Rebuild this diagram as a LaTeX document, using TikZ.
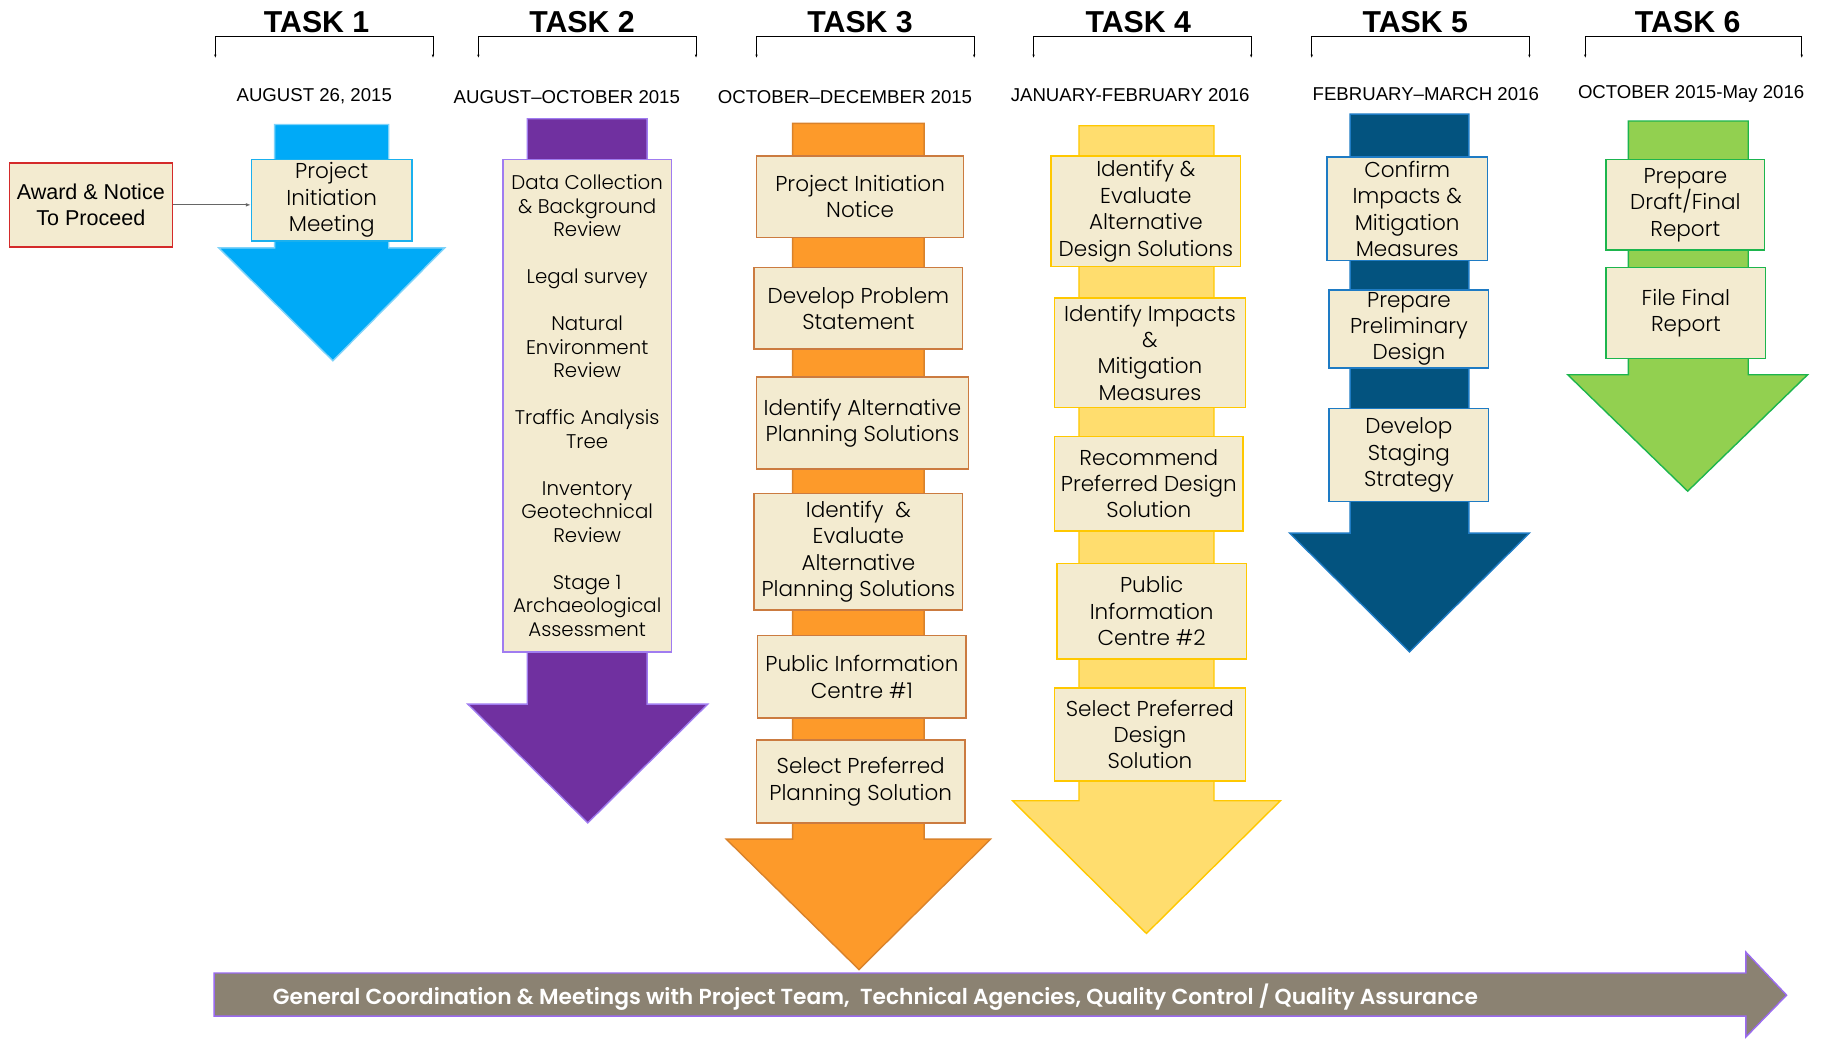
\documentclass[tikz,border=0pt]{standalone}
\usepackage{fontspec}
\setmainfont{Poppins}[UprightFont=* Light, BoldFont=* Bold]
\newfontfamily\arialf{Liberation Sans}
\newfontfamily\popbold{Poppins}[UprightFont=* SemiBold]
\usetikzlibrary{arrows.meta}
\definecolor{cream}{HTML}{F3EBD0}
\definecolor{tAfill}{HTML}{00AAF7}\definecolor{tAline}{HTML}{7FD3FA}\definecolor{tAbox}{HTML}{1AB0EE}
\definecolor{tBfill}{HTML}{7030A0}\definecolor{tBline}{HTML}{A07CF0}
\definecolor{tCfill}{HTML}{FD9A2A}\definecolor{tCline}{HTML}{D9822B}\definecolor{tCbox}{HTML}{CB7B40}
\definecolor{tDfill}{HTML}{FFDD6E}\definecolor{tDline}{HTML}{FFC800}
\definecolor{tEfill}{HTML}{03537F}\definecolor{tEline}{HTML}{1E7BC4}
\definecolor{tFfill}{HTML}{92D050}\definecolor{tFline}{HTML}{1DB54D}
\definecolor{gfill}{HTML}{8B8272}\definecolor{gline}{HTML}{9B6BF0}
\definecolor{redb}{HTML}{D42A2A}
\begin{document}
\begin{tikzpicture}[x=1pt,y=-1pt,
  box/.style={draw, fill=cream, line width=1.3pt, align=center, inner sep=0pt,
    font=\fontsize{18.5}{22.7}\selectfont},
  tasklabel/.style={font=\arialf\bfseries\fontsize{26}{30}\selectfont},
  datelabel/.style={font=\arialf\fontsize{16}{19}\selectfont},
  bracket/.style={line width=0.8pt, {Latex[length=3pt,width=2pt]}-{Latex[length=3pt,width=2pt]}},
  bigarrow/.style={line width=1.2pt, line join=miter}]
\useasboundingbox (0,0) rectangle (1568,894);
\fill[white] (0,0) rectangle (1568,894);

% task headers
\foreach \n/\xa/\xb in {1/185/372,2/411/598,3/650/837,4/888/1075,5/1127/1314,6/1362/1548}{
  \coordinate (bl\n) at (\xa,50);
  \coordinate (br\n) at (\xb,50);
  \draw[bracket] (bl\n) |- ({(\xa+\xb)/2},31) -| (br\n);
}
\node[tasklabel] (t1) at (272,19) {TASK 1};
\node[tasklabel] (t2) at (500,19) {TASK 2};
\node[tasklabel] (t3) at (739,19) {TASK 3};
\node[tasklabel] (t4) at (978,19) {TASK 4};
\node[tasklabel] (t5) at (1216,19) {TASK 5};
\node[tasklabel] (t6) at (1450,19) {TASK 6};
\node[datelabel] (d1) at (270,83) {AUGUST 26, 2015};
\node[datelabel] (d2) at (487,83) {AUGUST–OCTOBER 2015};
\node[datelabel] (d3) at (726,83) {OCTOBER–DECEMBER 2015};
\node[datelabel] (d4) at (971,82) {JANUARY-FEBRUARY 2016};
\node[datelabel] (d5) at (1225,81) {FEBRUARY–MARCH 2016};
\node[datelabel] (d6) at (1453,81) {OCTOBER 2015-May 2016};

% big arrows
\draw[bigarrow, fill=tAfill, draw=tAline] (236,107) -- (334,107) -- (334,213) -- (382,213) -- (286,310) -- (188,213) -- (236,213) -- cycle;
\draw[bigarrow, fill=tBfill, draw=tBline] (453,102) -- (556,102) -- (556,605) -- (608,605) -- (505,707) -- (402,605) -- (453,605) -- cycle;
\draw[bigarrow, fill=tCfill, draw=tCline] (681,106) -- (794,106) -- (794,721) -- (851,721) -- (738,833) -- (624,721) -- (681,721) -- cycle;
\draw[bigarrow, fill=tDfill, draw=tDline] (927,108) -- (1043,108) -- (1043,688) -- (1100,688) -- (985,802) -- (870,688) -- (927,688) -- cycle;
\draw[bigarrow, fill=tEfill, draw=tEline] (1160,98) -- (1262,98) -- (1262,458) -- (1314,458) -- (1211,560) -- (1108,458) -- (1160,458) -- cycle;
\draw[bigarrow, fill=tFfill, draw=tFline] (1399,104) -- (1502,104) -- (1502,322) -- (1553,322) -- (1450,422) -- (1347,322) -- (1399,322) -- cycle;

% bottom arrow
\draw[bigarrow, fill=gfill, draw=gline] (184,836) -- (1500,836) -- (1500,818) -- (1535,855) -- (1500,891) -- (1500,873) -- (184,873) -- cycle;
\node[text=white, anchor=west, font=\popbold\fontsize{18.7}{22}\selectfont] (gen) at (231,857)
  {General Coordination \& Meetings with Project Team,\ \ Technical Agencies, Quality Control / Quality Assurance};

% Award
\node[box, draw=redb, font=\arialf\fontsize{18.5}{23}\selectfont, minimum width=140pt, minimum height=72pt] (award) at (78,176) {Award \& Notice\\To Proceed};

% Task 1
\node[box, draw=tAbox, minimum width=138pt, minimum height=70pt] (p1) at (285,172) {Project\\Initiation\\Meeting};
\draw[gray!80!black, line width=0.7pt, -{Latex[length=4pt,width=3pt]}] (award.east) -- (award.east -| p1.west);

% Task 2
\node[box, draw=tBline, minimum width=145pt, minimum height=423pt, font=\fontsize{17}{20.2}\selectfont] (p2) at (504.5,348.5)
  {Data Collection\\\& Background\\Review\\[20.2pt]Legal survey\\[20.2pt]Natural\\Environment\\Review\\[20.2pt]Traffic Analysis\\Tree\\[20.2pt]Inventory\\Geotechnical\\Review\\[20.2pt]Stage 1\\Archaeological\\Assessment};

% Task 3
\node[box, draw=tCbox, minimum width=178pt, minimum height=70pt] (c1) at (739,169) {Project Initiation\\Notice};
\node[box, draw=tCbox, minimum width=179pt, minimum height=70pt] (c2) at (737.5,265) {Develop Problem\\Statement};
\node[box, draw=tCbox, minimum width=182pt, minimum height=79pt] (c3) at (741,363.5) {Identify Alternative\\Planning Solutions};
\node[box, draw=tCbox, minimum width=179pt, minimum height=100pt] (c4) at (737.5,474) {Identify\ \ \&\\Evaluate\\Alternative\\Planning Solutions};
\node[box, draw=tCbox, minimum width=179pt, minimum height=71pt] (c5) at (740.5,581.5) {Public Information\\Centre \#1};
\node[box, draw=tCbox, minimum width=179pt, minimum height=71pt] (c6) at (739.5,671.5) {Select Preferred\\Planning Solution};

% Task 4
\node[box, draw=tDline, minimum width=163pt, minimum height=95pt] (e1) at (984.5,181.5) {Identify \&\\Evaluate\\Alternative\\Design Solutions};
\node[box, draw=tDline, minimum width=164pt, minimum height=94pt] (e2) at (988,303) {Identify Impacts\\\&\\Mitigation\\Measures};
\node[box, draw=tDline, minimum width=162pt, minimum height=81pt] (e3) at (987,415.5) {Recommend\\Preferred Design\\Solution};
\node[box, draw=tDline, minimum width=163pt, minimum height=82pt] (e4) at (989.5,525) {Public\\Information\\Centre \#2};
\node[box, draw=tDline, minimum width=164pt, minimum height=80pt] (e5) at (988,631) {Select Preferred\\Design\\Solution};

% Task 5
\node[box, draw=tEline, minimum width=138pt, minimum height=89pt] (f1) at (1209,179.5) {Confirm\\Impacts \&\\Mitigation\\Measures};
\node[box, draw=tEline, minimum width=137pt, minimum height=67pt] (f2) at (1210.5,282.5) {Prepare\\Preliminary\\Design};
\node[box, draw=tEline, minimum width=137pt, minimum height=80pt] (f3) at (1210.5,391) {Develop\\Staging\\Strategy};

% Task 6
\node[box, draw=tFline, minimum width=136pt, minimum height=78pt] (g1) at (1448,176) {Prepare\\Draft/Final\\Report};
\node[box, draw=tFline, minimum width=137pt, minimum height=78pt] (g2) at (1448.5,269) {File Final\\Report};
\end{tikzpicture}
\end{document}
